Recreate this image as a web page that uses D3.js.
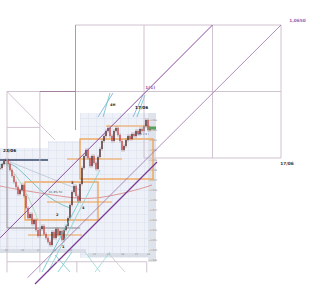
<!DOCTYPE html>
<html><head><meta charset="utf-8">
<script src="https://cdn.jsdelivr.net/npm/d3@7"></script>
<style>body{margin:0;background:#fff}svg{display:block;font-family:"DejaVu Sans",sans-serif}</style>
</head><body><svg id="c" width="327" height="300"></svg>
<script>
// ===== Overlay (Gann box) data: [time unit, price] =====
const overlayTimeDomain=[0,4];
const overlayPriceDomain=[1.0550,1.0650];
const gridVertical=[[0,1.0600,1.0464],[0.48,1.0600,1.0464],[2,1.0650,1.0550],[3,1.0650,1.0550],[4,1.0650,1.0550],[1.02,1.0472,1.0464],[2.04,1.0472,1.0464]];
const gridVerticalDark=[[1,1.0650,1.0571]];
const gridHorizontal=[[1.0650,1,4],[1.0600,0,4],[1.0550,2,4],[1.0573,0,0.48],[1.0472,0,2.04]];
const gridHorizontalDark=[[1.0600,0.48,1]];
const gridDiagonal=[[[0,1.0600],[0.70,1.05635]]];
const purpleLines=[[[3.0,1.0650],[-0.1,1.0490]],[[4.0,1.0650],[0.3,1.0460]]];
const overlayLabels=[{t:4.12,p:1.0652,s:"1,0650",c:"#9a5fb0"},{t:3.99,p:1.0545,s:"17/06",c:"#333"},{t:2.02,p:1.0602,s:"1(1)",c:"#9a5fb0"}];

// ===== Inset chart data: [bar index, price] =====
const insetBarDomain=[0,75];
const insetPriceDomain=[1.0400,1.0535];
const closes=[1.0482,1.0486,1.0489,1.0490,1.0486,1.0480,1.0474,1.0468,1.0463,1.0456,
1.0460,1.0465,1.0454,1.0442,1.0432,1.0436,1.0426,1.0430,1.0420,1.0414,
1.0421,1.0424,1.0416,1.0412,1.0408,1.0405,1.0418,1.0412,1.0421,1.0415,
1.0419,1.0410,1.0420,1.0424,1.0432,1.0445,1.0458,1.0464,1.0454,1.0449,
1.0466,1.0482,1.0494,1.0500,1.0492,1.0484,1.0494,1.0487,1.0481,1.0493,
1.0501,1.0509,1.0514,1.0519,1.0522,1.0514,1.0509,1.0519,1.0522,1.0515,
1.0509,1.0500,1.0504,1.0510,1.0514,1.0511,1.0516,1.0514,1.0519,1.0516,
1.0521,1.0519,1.0524,1.0530,1.0520,1.0522];
const panelRects=[[0,43,1.0502,1.0399],[24,43,1.0509,1.0502],[40,78,1.0537,1.0392]];
const axisBands=[[0,43,1.0401,1.0397],[44,76,1.0397,1.0393]];
const rightAxisBand=[74,78,1.0537,1.0388];
const bottomTicksLeft=[3,11,19,27,35], bottomLabelsLeft=["09","10","11","12","13"];
const bottomTicksRight=[47,54,61,68,74], bottomLabelsRight=["14","15","16","17","18"];
const priceTicks=[1.039,1.040,1.041,1.042,1.043,1.044,1.045,1.046,1.047,1.048,1.049,1.050,1.051,1.052,1.053];
const maCurves=[
 {c:"#5fb8b8",pts:[[0,1.0485],[5,1.0488],[10,1.0480],[15,1.0470],[20,1.0460],[25,1.0452],[30,1.0446],[35,1.0442]]},
 {c:"#9fd4a8",pts:[[2,1.0488],[7,1.0478],[12,1.0462],[16,1.0445],[19,1.0430]]},
 {c:"#b8c4d4",pts:[[4,1.0489],[15,1.0480],[30,1.0468],[40,1.0460]]},
 {c:"#d88080",pts:[[0,1.0464],[10,1.0460],[20,1.0457],[30,1.0454],[40,1.0451],[50,1.0452],[60,1.0456],[70,1.0461],[76,1.0465]]}
];
const fanLines=[
 {c:"#78a8dc",pts:[[49,1.0533],[56.5,1.0557]]},{c:"#5fc0c0",pts:[[51.5,1.0533],[55,1.0557]]},
 {c:"#78a8dc",pts:[[66.5,1.0533],[71.5,1.0555]]},{c:"#5fc0c0",pts:[[68.5,1.0533],[72.5,1.0555]]},
 {c:"#5cc4c4",pts:[[21,1.0378],[40,1.0450]]},{c:"#7ccfcf",pts:[[24,1.0378],[50,1.0480]]},
 {c:"#6cc8c8",pts:[[27.5,1.0395],[35,1.0378]]},{c:"#6cc8c8",pts:[[29,1.0378],[36,1.0398]]},
 {c:"#98d8d8",pts:[[42.5,1.0398],[50,1.0378]]},{c:"#98d8d8",pts:[[47.5,1.0378],[55,1.0398]]},
 {c:"#c8c8c8",pts:[[55,1.0395],[62.5,1.0378]]}
];
const insetPurple=[[17.5,1.0366],[78.5,1.0488]];
const orangeRects=[[40,76.5,1.0511,1.0471],[12.5,49,1.0468,1.0430]];
const orangeLevels=[[1.0524,53,75],[1.0491,33.5,61],[1.0448,23.5,56],[1.0415,14,41]];
const navyLevel=[1.0490,0,24];
const darkPath=[[3.5,1.0490],[3.5,1.0422],[40,1.0422]];
const insetLabels=[{b:1.5,p:1.0498,s:"23/06",f:4.2},{b:55,p:1.0544,s:"4H",f:3.5},{b:67.5,p:1.0541,s:"17/06",f:4.2},
 {b:35.5,p:1.0466,s:"3",f:3.5},{b:28,p:1.0434,s:"2",f:3.5},{b:41,p:1.0441,s:"4",f:3.5},{b:31,p:1.0402,s:"1",f:3.5}];
const fibLabel={b:24.5,p:1.0457,s:"61.8% 50"};

const svg=d3.select("#c");
const xO=d3.scaleLinear().domain(overlayTimeDomain).range([7,281]);
const yO=d3.scaleLinear().domain(overlayPriceDomain).range([158,25]);
const xI=d3.scaleLinear().domain(insetBarDomain).range([0,150]);
const yI=d3.scaleLinear().domain(insetPriceDomain).range([250,115]);
const rectI=(sel)=>sel.attr("x",r=>xI(r[0])).attr("y",r=>yI(r[2])).attr("width",r=>xI(r[1])-xI(r[0])).attr("height",r=>yI(r[3])-yI(r[2]));
const lineI=d3.line().x(d=>xI(d[0])).y(d=>yI(d[1]));
const curveI=d3.line().x(d=>xI(d[0])).y(d=>yI(d[1])).curve(d3.curveBasis);
const lineO=d3.line().x(d=>xO(d[0])).y(d=>yO(d[1]));

// ---- panel background
const defs=svg.append("defs");
defs.append("clipPath").attr("id","pc").selectAll("rect").data(panelRects).join("rect").call(rectI);
const panel=svg.append("g");
panel.selectAll("rect.bg").data(panelRects).join("rect").attr("class","bg").call(rectI).attr("fill","#eef1f7");
const grid=panel.append("g").attr("clip-path","url(#pc)");
grid.append("g").attr("transform",`translate(0,${yI(1.0388)})`)
 .call(d3.axisBottom(xI).tickValues(d3.range(0,80,4)).tickSize(-160).tickFormat(""));
grid.append("g").call(d3.axisLeft(yI).tickValues(d3.range(1.0388,1.0540,0.0008)).tickSize(-160).tickFormat(""));
grid.selectAll(".domain").remove();
grid.selectAll(".tick line").attr("stroke","#dce2ee").attr("stroke-width",0.6);
// axis bands
panel.selectAll("rect.ab").data(axisBands).join("rect").attr("class","ab").call(rectI).attr("fill","#d9dde6");
panel.append("rect").datum(rightAxisBand).call(rectI).attr("fill","#dfe3ec");
const axL=panel.append("g").attr("transform",`translate(0,${yI(1.0401)})`)
 .call(d3.axisBottom(xI).tickValues(bottomTicksLeft).tickSize(0).tickPadding(0.5).tickFormat((d,i)=>bottomLabelsLeft[i]));
const axR=panel.append("g").attr("transform",`translate(0,${yI(1.0397)})`)
 .call(d3.axisBottom(xI).tickValues(bottomTicksRight).tickSize(0).tickPadding(0.5).tickFormat((d,i)=>bottomLabelsRight[i]));
const axY=panel.append("g").attr("transform",`translate(${xI(74.4)},0)`)
 .call(d3.axisRight(yI).tickValues(priceTicks).tickSize(1).tickPadding(0.5).tickFormat(d3.format(".3f")));
[axL,axR,axY].forEach(a=>{a.select(".domain").remove();a.selectAll("text").attr("font-size",2.3).attr("fill","#777").attr("font-family","DejaVu Sans");a.selectAll(".tick line").attr("stroke","#999").attr("stroke-width",0.4);});

// ---- MA curves
panel.selectAll("path.ma").data(maCurves).join("path").attr("d",d=>curveI(d.pts)).attr("fill","none").attr("stroke",d=>d.c).attr("stroke-width",0.8);
// ---- orange
panel.selectAll("rect.or").data(orangeRects).join("rect").call(rectI).attr("fill","none").attr("stroke","#f0a050").attr("stroke-width",1.3);
panel.selectAll("line.ol").data(orangeLevels).join("line").attr("x1",d=>xI(d[1])).attr("x2",d=>xI(d[2])).attr("y1",d=>yI(d[0])).attr("y2",d=>yI(d[0])).attr("stroke","#f0a050").attr("stroke-width",1.2);
// ---- navy and dark lines
panel.append("line").attr("x1",xI(navyLevel[1])).attr("x2",xI(navyLevel[2])).attr("y1",yI(navyLevel[0])).attr("y2",yI(navyLevel[0])).attr("stroke","#34466a").attr("stroke-width",1.6);
panel.append("path").attr("d",lineI(darkPath)).attr("fill","none").attr("stroke","#6a6a6a").attr("stroke-width",0.8);
// ---- fan lines
svg.selectAll("path.fan").data(fanLines).join("path").attr("d",d=>lineI(d.pts)).attr("stroke",d=>d.c).attr("stroke-width",0.8).attr("fill","none");
// ---- candles
const bars=closes.map((c,i)=>({i,o:i?closes[i-1]:c,c}));
panel.selectAll("line.wick").data(bars).join("line").attr("x1",d=>xI(d.i)).attr("x2",d=>xI(d.i))
 .attr("y1",d=>yI(Math.max(d.o,d.c))-1.6).attr("y2",d=>yI(Math.min(d.o,d.c))+1.6).attr("stroke","#6a2a2a").attr("stroke-width",0.4);
panel.selectAll("rect.body").data(bars).join("rect").attr("x",d=>xI(d.i)-0.65).attr("width",1.3)
 .attr("y",d=>yI(Math.max(d.o,d.c))).attr("height",d=>Math.max(0.7,Math.abs(yI(d.o)-yI(d.c))))
 .attr("fill",d=>d.c>=d.o?"#4a2a2a":"#d04848");
// last price marker
const last=closes[closes.length-1];
panel.append("rect").attr("x",xI(74.3)).attr("width",xI(78)-xI(74.3)).attr("y",yI(last)-1.5).attr("height",3).attr("fill","#5aa05a");
panel.append("line").attr("x1",xI(69)).attr("x2",xI(74.3)).attr("y1",yI(last-0.0006)).attr("y2",yI(last-0.0006)).attr("stroke","#3050b0").attr("stroke-width",0.7).attr("stroke-dasharray","1.5,1");
// inset purple line
svg.append("path").attr("d",lineI(insetPurple)).attr("stroke","#7b3b94").attr("stroke-width",1.3).attr("fill","none");

// ---- overlay grid
const og=svg.append("g");
og.selectAll("line.v").data(gridVertical).join("line").attr("x1",d=>xO(d[0])).attr("x2",d=>xO(d[0])).attr("y1",d=>yO(d[1])).attr("y2",d=>yO(d[2])).attr("stroke","#cbbdcb").attr("stroke-width",0.9);
og.selectAll("line.h").data(gridHorizontal).join("line").attr("x1",d=>xO(d[1])).attr("x2",d=>xO(d[2])).attr("y1",d=>yO(d[0])).attr("y2",d=>yO(d[0])).attr("stroke","#cbbdcb").attr("stroke-width",0.9);
og.selectAll("line.vd").data(gridVerticalDark).join("line").attr("x1",d=>xO(d[0])).attr("x2",d=>xO(d[0])).attr("y1",d=>yO(d[1])).attr("y2",d=>yO(d[2])).attr("stroke","#a58ea5").attr("stroke-width",0.9);
og.selectAll("line.hd").data(gridHorizontalDark).join("line").attr("x1",d=>xO(d[1])).attr("x2",d=>xO(d[2])).attr("y1",d=>yO(d[0])).attr("y2",d=>yO(d[0])).attr("stroke","#a0809e").attr("stroke-width",1.2);
og.selectAll("path.dg").data(gridDiagonal).join("path").attr("d",lineO).attr("stroke","#cbbdcb").attr("stroke-width",0.9).attr("fill","none");
og.selectAll("path.pu").data(purpleLines).join("path").attr("d",lineO).attr("stroke",(d,i)=>i?"#9a72ae":"#8a4a9e").attr("stroke-width",(d,i)=>i?0.8:1).attr("fill","none");
og.selectAll("text").data(overlayLabels).join("text").attr("x",d=>xO(d.t)).attr("y",d=>yO(d.p)).text(d=>d.s)
 .attr("font-size",4.3).attr("font-weight","bold").attr("fill",d=>d.c).attr("text-anchor","start");

// ---- inset labels
svg.selectAll("text.il").data(insetLabels).join("text").attr("class","il").attr("x",d=>xI(d.b)).attr("y",d=>yI(d.p)).text(d=>d.s)
 .attr("font-size",d=>d.f).attr("font-weight","bold").attr("fill","#222");
svg.append("text").attr("x",xI(fibLabel.b)).attr("y",yI(fibLabel.p)).text(fibLabel.s).attr("font-size",2.8).attr("fill","#555");
</script></body></html>
